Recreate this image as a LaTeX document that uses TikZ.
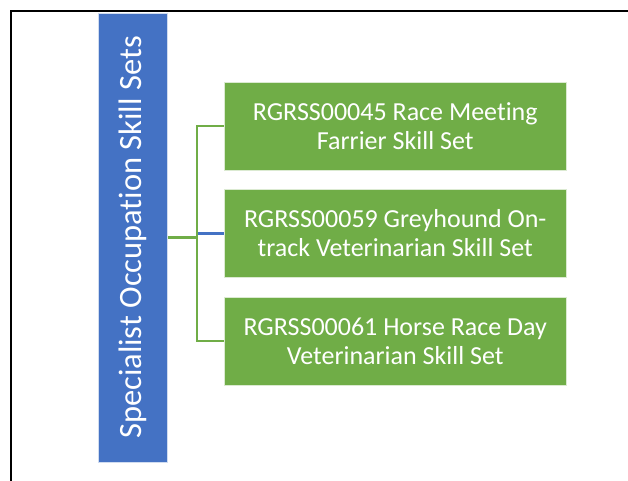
\documentclass[tikz,border=0pt]{standalone}
\usepackage{fontspec}
\setmainfont{Carlito}[Ligatures=NoCommon]
\definecolor{sagreen}{HTML}{70AD47}
\definecolor{sablue}{HTML}{4472C4}
\tikzset{
  leafbox/.style={fill=sagreen, draw=white!75!sagreen, line width=0.6bp, minimum width=342.5bp, minimum height=88bp, inner sep=0pt, text=white, align=center, font=\fontsize{26bp}{29bp}\selectfont},
  rootbox/.style={fill=sablue, draw=white!75!sablue, line width=0.6bp, minimum width=449bp, minimum height=69bp, inner sep=0pt, text=white, rotate=90, font=\fontsize{32.5bp}{38bp}\selectfont},
  gline/.style={draw=sagreen, line width=2.2bp},
  bline/.style={draw=sablue, line width=2.2bp},
  frameline/.style={draw=black, line width=2.2bp}
}
\begin{document}
\begin{tikzpicture}[x=1bp,y=-1bp]
\useasboundingbox (0,0) rectangle (628,481);
\coordinate (fa) at (11,481);
\coordinate (fb) at (11,11);
\coordinate (fc) at (628,11);
\draw[frameline] (fa) -- (fb) -- (fc);
\node[rootbox] (root) at (133,237.5) {Specialist Occupation Skill Sets};
\node[leafbox] (b1) at (395.25,126) {RGRSS00045 Race Meeting\\Farrier Skill Set};
\node[leafbox] (b2) at (395.25,233.5) {RGRSS00059 Greyhound On-\\track Veterinarian Skill Set};
\node[leafbox] (b3) at (395.25,341) {RGRSS00061 Horse Race Day\\Veterinarian Skill Set};
\coordinate (j0) at (197,237.5);
\coordinate (j1) at (197,126);
\coordinate (j2) at (197,233.5);
\coordinate (j3) at (197,341);
\draw[bline] (j2) -- (b2.west);
\draw[gline] (root.south) -- (j0);
\draw[gline] (b1.west) -- (j1) -- (j3) -- (b3.west);
\end{tikzpicture}
\end{document}
